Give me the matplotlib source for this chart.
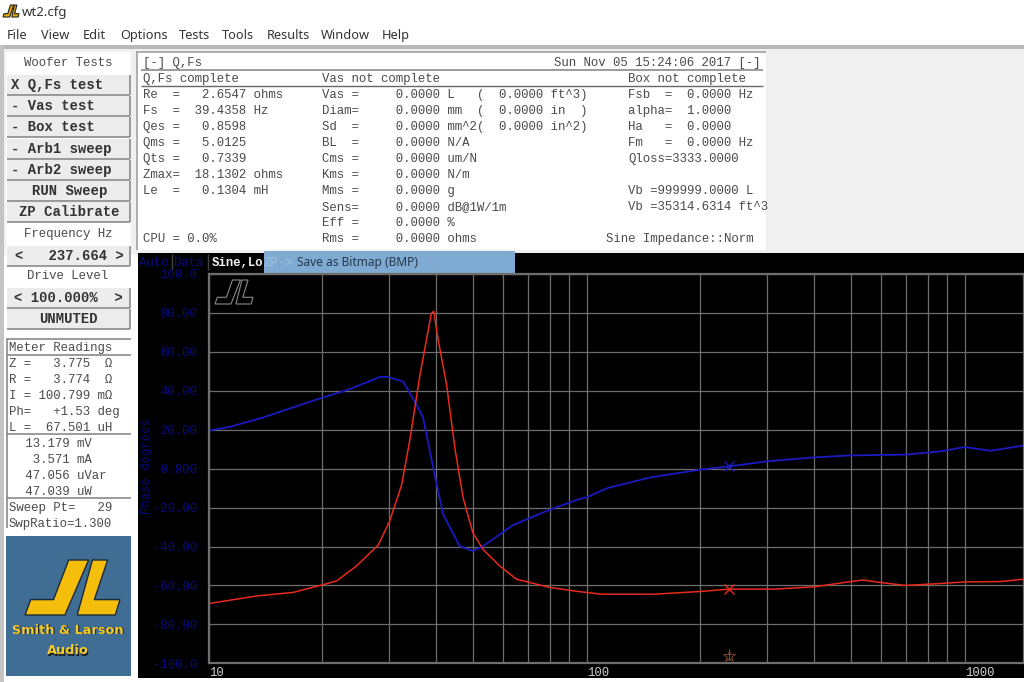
import matplotlib
matplotlib.use("Agg")
import matplotlib.pyplot as plt
from matplotlib.patches import Polygon, Rectangle

# Curve data (Hz, degrees)
phase_freq = [10, 11.4, 13.95, 17.1, 20, 23.2, 28.4, 29.8, 32.7, 35.4, 36.9, 39.6, 41.7, 46.1, 50, 53.2,
              63.8, 78.2, 94.8, 100, 113.8, 148, 200, 238.6, 301, 400, 500, 698, 864, 1000, 1171, 1434]
phase_deg = [19.5, 21.5, 26.3, 32.1, 36.5, 40.3, 47.1, 47.1, 44.7, 33.1, 26.3, -3, -23.5, -39.8, -42.3, -39.8,
             -29, -21.8, -15.8, -14.7, -9.9, -4.4, -0.5, 1.2, 3.8, 5.8, 6.8, 7.2, 8.9, 11.1, 9.2, 11.9]

imp_freq = [10, 13.4, 16.7, 20, 21.8, 24.6, 28.1, 30.1, 32.4, 34, 36.2, 38.8, 39.4, 40.4, 42.6, 44.8, 47.1,
            50, 53.2, 58.9, 65.2, 79.8, 94.8, 100, 109.3, 151, 200, 238.6, 314, 400, 500, 537, 600, 698, 864,
            1000, 1244, 1434]
imp_val = [-69.3, -65.4, -63.6, -59.7, -57.7, -50, -39.2, -27, -8.2, 14, 48, 79.7, 80.9, 66.9, 43, 10.6, -15,
           -33, -41.5, -50, -56.8, -61, -63.1, -63.6, -64.5, -64.5, -63.1, -61.9, -61.9, -60.7, -58, -57.2,
           -58.5, -60, -59, -58.2, -58, -56.8]

cursor_freq = 237.664
cursor_phase = 1.2
cursor_imp = -61.9

y_ticks = [100, 80, 60, 40, 20, 0, -20, -40, -60, -80, -100]
y_labels = ["100.0", "80.00", "60.00", "40.00", "20.00", "0.000", "-20.00", "-40.00", "-60.00", "-80.00", "-100.0"]
x_major = [10, 100, 1000]
x_labels = ["10", "100", "1000"]
x_minor = [20, 30, 40, 50, 60, 70, 80, 90, 200, 300, 400, 500, 600, 700, 800, 900]

menu_items = ["File", "View", "Edit", "Options", "Tests", "Tools", "Results", "Window", "Help"]
menu_x = [7, 41, 83, 120, 179, 222, 267, 321, 382]
buttons = ["X Q,Fs test", "- Vas test", "- Box test", "- Arb1 sweep", "- Arb2 sweep"]
center_buttons = ["RUN Sweep", "ZP Calibrate"]

col1 = ["Re  =   2.6547 ohms", "Fs  =  39.4358 Hz", "Qes =   0.8598", "Qms =   5.0125", "Qts =   0.7339",
        "Zmax=  18.1302 ohms", "Le  =   0.1304 mH", "", "", "CPU = 0.0%"]
col2 = ["Vas =     0.0000 L   (  0.0000 ft^3)", "Diam=     0.0000 mm  (  0.0000 in  )",
        "Sd  =     0.0000 mm^2(  0.0000 in^2)", "BL  =     0.0000 N/A", "Cms =     0.0000 um/N",
        "Kms =     0.0000 N/m", "Mms =     0.0000 g", "Sens=     0.0000 dB@1W/1m", "Eff =     0.0000 %",
        "Rms =     0.0000 ohms"]
col3 = ["Fsb  =  0.0000 Hz", "alpha=  1.0000", "Ha   =  0.0000", "Fm   =  0.0000 Hz", "Qloss=3333.0000", "",
        "Vb =999999.0000 L", "Vb =35314.6314 ft^3"]
meter1 = ["Z =   3.775  Ω", "R =   3.774  Ω", "I = 100.799 mΩ", "Ph=   +1.53 deg", "L =  67.501 uH"]
meter2 = [" 13.179 mV", "  3.571 mA", " 47.056 uVar", " 47.039 uW"]

MONO = "Liberation Mono"
GREY = "#4a4a4a"
DIM_BLUE = "#0a0a80"

# SL logo outline, unit square, y down
logo_s = [(0.46, 0), (0.67, 0), (0.42, 1), (0, 1), (0.06, 0.72), (0.3, 0.72)]
logo_l = [(0.71, 0), (0.87, 0), (0.73, 0.72), (1, 0.72), (0.95, 1), (0.55, 1)]


def draw_logo(ax, x, y, w, h, **kw):
    for shape in (logo_s, logo_l):
        ax.add_patch(Polygon([(x + a * w, y + b * h) for a, b in shape], closed=True, **kw))


def line(ax, x0, x1, y0, y1, color="#8a8a8a", lw=1.2):
    ax.plot([x0, x1], [y0, y1], color=color, lw=lw, solid_capstyle="butt")


def rect(ax, x, y, w, h, color, **kw):
    ax.add_patch(Rectangle((x, y), w, h, facecolor=color, edgecolor="none", **kw))


# y is the middle of the capitals, the text sits on a fixed baseline below it
def txt(x, y, s, family=MONO, fontsize=8.9, color=GREY, **kw):
    ui.text(x, y + 4, s, family=family, fontsize=fontsize, color=color, va="baseline", **kw)


def button(y0, y1, label, x=11, ha="left"):
    rect(ui, 7, y0, 123, y1 - y0, "#ececec")
    line(ui, 7, 130, y1, y1)
    line(ui, 130, 130, y0, y1)
    txt(x, (y0 + y1) / 2, label, fontsize=10, weight="bold", color="#333333", ha=ha)


fig = plt.figure(figsize=(10.24, 6.82), dpi=100, facecolor="white")
ui = fig.add_axes([0, 0, 1, 1])
ui.set_xlim(0, 1024)
ui.set_ylim(682, 0)
ui.axis("off")

# window chrome
rect(ui, 0, 45, 1024, 210, "#f0f0f0")
rect(ui, 0, 45, 1024, 4, "#b8b8b8")
rect(ui, 0, 45, 4, 637, "#c4c4c4")
draw_logo(ui, 3, 5, 16, 12, facecolor="#e0a800", edgecolor="#222222", lw=0.8)
txt(22, 12, "wt2.cfg", family="Noto Sans", fontsize=9.5, color="#333333")
for name, mx in zip(menu_items, menu_x):
    txt(mx, 35, name, family="Noto Sans", fontsize=9.2, color="#333333")

# left column
rect(ui, 6, 52, 125, 630, "white")
txt(68, 62, "Woofer Tests", ha="center")
for i, b in enumerate(buttons):
    button(75 + i * 21.2, 95 + i * 21.2, b)
for i, b in enumerate(center_buttons):
    button(181 + i * 21.2, 201 + i * 21.2, b, x=69.5, ha="center")
txt(68, 233, "Frequency Hz", ha="center")
button(246, 266, "<   237.664 >", x=15)
txt(68, 275, "Drive Level", ha="center")
button(288, 308, "< 100.000%  >", x=14)
button(309, 329, "UNMUTED", x=68, ha="center")

# meter readings
for y in [339, 355, 434, 498]:
    line(ui, 6, 131, y, y)
line(ui, 6.5, 6.5, 339, 528)
txt(9, 347, "Meter Readings")
for i, s in enumerate(meter1):
    txt(9, 363 + i * 16, s)
for i, s in enumerate(meter2):
    txt(18, 443 + i * 16, s)
txt(9, 507, "Sweep Pt=   29")
txt(9, 523, "SwpRatio=1.300")

# brand tile
rect(ui, 6, 536, 125, 140, "#3f6d94")
draw_logo(ui, 25, 560, 95, 55, facecolor="#f5bd0c", edgecolor="#1d2a35", lw=1.0)
for label, ty in [("Smith & Larson", 630), ("Audio", 651)]:
    ui.text(69, ty + 1, label, family="DejaVu Sans", fontsize=9.3, weight="bold", color="#1a1a1a", ha="center", va="center")
    ui.text(68, ty, label, family="DejaVu Sans", fontsize=9.3, weight="bold", color="#f5cc2a", ha="center", va="center")

# results panel
rect(ui, 136, 52, 630, 198, "white")
line(ui, 136, 766, 52, 52, color="#a0a0a0")
line(ui, 137, 137, 52, 250, color="#a0a0a0")
line(ui, 141, 763, 70, 70)
line(ui, 141, 763, 86, 86, color="#666666", lw=1)
txt(143, 62, "[-] Q,Fs")
txt(761, 62, "Sun Nov 05 15:24:06 2017 [-]", ha="right")
txt(143, 78, "Q,Fs complete")
txt(322, 78, "Vas not complete")
txt(628, 78, "Box not complete")
for i, s in enumerate(col1):
    txt(143, 94 + i * 16, s)
for i, s in enumerate(col2):
    txt(322, 94 + i * 16, s)
for i, s in enumerate(col3):
    txt(628, 94 + i * 16, s)
txt(606, 238, "Sine Impedance::Norm")

# black plot window and its strip
rect(ui, 138, 253, 886, 425, "black")
txt(139, 262, "Auto", color=DIM_BLUE)
txt(174, 262, "Data", color=DIM_BLUE)
line(ui, 172, 172, 254, 270, color="#444444", lw=1)
line(ui, 208, 208, 254, 270, color="#444444", lw=1)
txt(212, 262, "Sine,Lo", weight="bold", color="#eeeeee")
rect(ui, 264, 251, 251, 23, "#7faad2")
txt(264, 262, "ZP->", color="#a3c3e0")
txt(297, 262, "Save as Bitmap (BMP)", family="Noto Sans", fontsize=8.6, color="#26384c")
ui.text(147, 466, "Phase degrees", family=MONO, fontsize=8.8, color=DIM_BLUE, rotation=90, ha="center", va="center")

# the plot itself, log x from 10 Hz to the right edge of the window
ax = fig.add_axes([208.7 / 1024, 1 - 663.3 / 682, 1 - 208.7 / 1024, (663.3 - 274) / 682], facecolor="black")
ax.set_xscale("log")
ax.set_xlim(10, 1435)
ax.set_ylim(-100, 100)
ax.set_yticks(y_ticks)
ax.set_yticklabels(y_labels, family=MONO, fontsize=8.9, color=DIM_BLUE)
ax.set_xticks(x_major)
ax.set_xticklabels(x_labels, family=MONO, fontsize=8.9, color="#cfcfcf", ha="left")
ax.set_xticks(x_minor, minor=True)
ax.set_xticklabels([], minor=True)
ax.tick_params(axis="both", which="both", length=0)
ax.tick_params(axis="y", pad=8.4)
ax.tick_params(axis="x", pad=2.5)
ax.grid(True, which="both", color="#6e6e6e", lw=0.9)
ax.set_axisbelow(True)
for side in ax.spines.values():
    side.set_color("#6e6e6e")
    side.set_linewidth(1.6)

ax.plot(phase_freq, phase_deg, color="#1a1ac0", lw=1.3)
ax.plot(imp_freq, imp_val, color="#e8291c", lw=1.1)
ax.plot([cursor_freq], [cursor_phase], marker="x", ms=7, mew=1, color="#1a1ac0", ls="none")
ax.plot([cursor_freq], [cursor_imp], marker="x", ms=7, mew=1, color="#e8291c", ls="none")
ax.plot([cursor_freq], [-96], marker="*", ms=9, mew=0.6, mfc="none", color="#8a4a30", ls="none")
ax.plot([cursor_freq, cursor_freq], [-98.5, -92.5], color="#8a4a30", lw=0.7)

# small SL mark inside the plot
logo_ax = fig.add_axes([0, 0, 1, 1], facecolor="none")
logo_ax.set_xlim(0, 1024)
logo_ax.set_ylim(682, 0)
logo_ax.axis("off")
draw_logo(logo_ax, 215, 280, 38, 24, facecolor="none", edgecolor="#8a8a8a", lw=0.8)

plt.savefig("out.png", dpi=100)
